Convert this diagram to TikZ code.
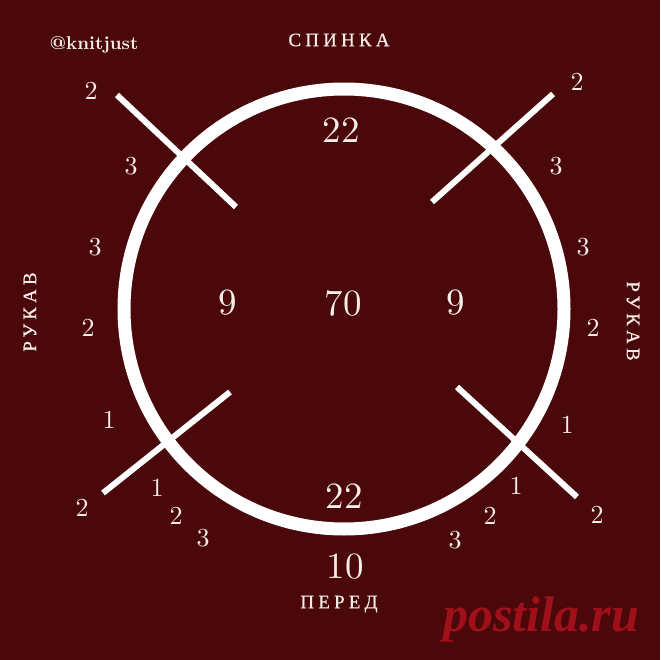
\documentclass[tikz,border=0pt]{standalone}
\usepackage{fontspec}
\newfontfamily\numfont{lmroman10-regular}[Extension=.otf]
\newfontfamily\tagfont{lmroman10-bold}[Extension=.otf]
\newfontfamily\cyrfont[LetterSpace=22,FakeBold=0.6]{Liberation Serif}
\newfontfamily\markfont{Liberation Serif}
\usetikzlibrary{positioning}
\definecolor{bg}{RGB}{74,8,10}
\definecolor{ink}{RGB}{246,236,232}
\definecolor{wm}{RGB}{160,16,26}

\begin{document}
\begin{tikzpicture}[x=1pt,y=-1pt,
  num/.style={text=ink,font=\numfont\fontsize{26}{26}\selectfont,inner sep=0pt},
  bignum/.style={text=ink,font=\numfont\fontsize{37}{37}\selectfont,inner sep=0pt},
  part/.style={text=ink,font=\cyrfont\fontsize{19}{19}\selectfont,inner sep=0pt},
  bar/.style={white,line width=6pt}]
\useasboundingbox (0,0) rectangle (660,660);
\fill [bg] (0,0) rectangle (660,660);

% ring
\coordinate (o) at (344,309);
\draw [white,line width=13pt] (o) circle [radius=220];

% cross marks
\coordinate (tl1) at (117,95);
\coordinate (tl2) at (236,207);
\coordinate (tr1) at (553,94);
\coordinate (tr2) at (432,202);
\coordinate (bl1) at (230,392);
\coordinate (bl2) at (103,493);
\coordinate (br1) at (457,387);
\coordinate (br2) at (577,497);
\draw [bar] (tl1) -- (tl2);
\draw [bar] (tr1) -- (tr2);
\draw [bar] (bl1) -- (bl2);
\draw [bar] (br1) -- (br2);

% parts
\node [part] (back) at (339,40) {СПИНКА};
\node [part] (front) at (339,604) {ПЕРЕД};
\node [part,rotate=90] (sleevel) at (30,312) {РУКАВ};
\node [part,rotate=-90] (sleever) at (633,321) {РУКАВ};
\node [text=ink,font=\tagfont\fontsize{18.5}{18.5}\selectfont,inner sep=0pt] (tag) at (94,45) {@knitjust};

% stitch counts
\node [bignum] (backn) at (341,130) {22};
\node [bignum] (total) at (343,303) {70};
\node [bignum] (sleevenl) at (228,303) {9};
\node [bignum] (sleevenr) at (456,303) {9};
\node [bignum] (frontn) at (344,496) {22};
\node [bignum] (frontx) at (345,567) {10};

% left side
\node [num] (l1) at (91,91) {2};
\node [num] (l2) at (131,166) {3};
\node [num] (l3) at (95,247) {3};
\node [num] (l4) at (88,328) {2};
\node [num] (l5) at (109,420) {1};
\node [num] (l6) at (82,508) {2};
\node [num] (l7) at (157,488) {1};
\node [num] (l8) at (176,516) {2};
\node [num] (l9) at (203,538) {3};

% right side
\node [num] (r1) at (577,82) {2};
\node [num] (r2) at (556,166) {3};
\node [num] (r3) at (583,247) {3};
\node [num] (r4) at (593,328) {2};
\node [num] (r5) at (567,425) {1};
\node [num] (r6) at (597,515) {2};
\node [num] (r7) at (516,486) {1};
\node [num] (r8) at (490,516) {2};
\node [num] (r9) at (455,540) {3};

% watermark
\node [text=wm,font=\markfont\bfseries\itshape\fontsize{50}{50}\selectfont,inner sep=0pt] (mark) at (541,619) {postila.ru};
\end{tikzpicture}
\end{document}
